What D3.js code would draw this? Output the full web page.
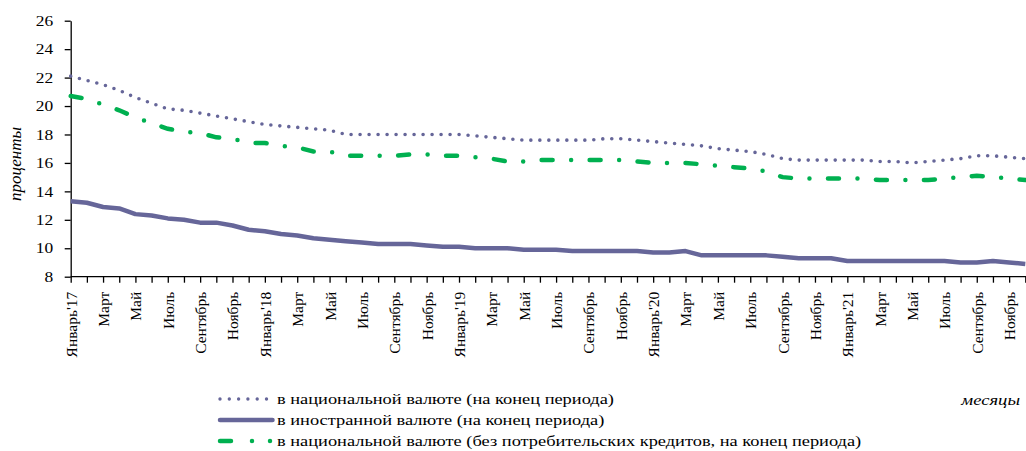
<!DOCTYPE html>
<html>
<head>
<meta charset="utf-8">
<script src="https://cdn.jsdelivr.net/npm/d3@7"></script>
<style>
  body { margin: 0; background: #fff; }
  svg { display: block; }
  svg text { font-family: "Liberation Serif", "Times New Roman", serif !important; fill: #000; }
  .axis path, .axis line { stroke: #000; stroke-width: 1.3; }
</style>
</head>
<body>
<svg width="1026" height="451"></svg>
<script>
// tick labels, every second month
var tickLabels = ["Январь'17", "Март", "Май", "Июль", "Сентябрь", "Ноябрь",
                  "Январь'18", "Март", "Май", "Июль", "Сентябрь", "Ноябрь",
                  "Январь'19", "Март", "Май", "Июль", "Сентябрь", "Ноябрь",
                  "Январь'20", "Март", "Май", "Июль", "Сентябрь", "Ноябрь",
                  "Январь'21", "Март", "Май", "Июль", "Сентябрь", "Ноябрь"];

var yTicks = [8, 10, 12, 14, 16, 18, 20, 22, 24, 26];

// в национальной валюте (на конец периода)
var national = [22.1, 21.8, 21.5, 21.1, 20.6, 20.2, 19.8, 19.7, 19.5, 19.3, 19.1, 18.9,
                18.7, 18.6, 18.5, 18.4, 18.3, 18.0, 18.0, 18.0, 18.0, 18.0, 18.0, 18.0,
                18.0, 17.9, 17.8, 17.7, 17.6, 17.6, 17.6, 17.6, 17.6, 17.7, 17.7, 17.6,
                17.5, 17.4, 17.3, 17.2, 17.0, 16.9, 16.8, 16.6, 16.3, 16.2, 16.2, 16.2,
                16.2, 16.2, 16.1, 16.1, 16.0, 16.1, 16.2, 16.3, 16.5, 16.5, 16.4, 16.3];

// в иностранной валюте (на конец периода)
var foreign = [13.3, 13.2, 12.9, 12.8, 12.4, 12.3, 12.1, 12.0, 11.8, 11.8, 11.6, 11.3,
               11.2, 11.0, 10.9, 10.7, 10.6, 10.5, 10.4, 10.3, 10.3, 10.3, 10.2, 10.1,
               10.1, 10.0, 10.0, 10.0, 9.9, 9.9, 9.9, 9.8, 9.8, 9.8, 9.8, 9.8,
               9.7, 9.7, 9.8, 9.5, 9.5, 9.5, 9.5, 9.5, 9.4, 9.3, 9.3, 9.3,
               9.1, 9.1, 9.1, 9.1, 9.1, 9.1, 9.1, 9.0, 9.0, 9.1, 9.0, 8.9];

// в национальной валюте (без потребительских кредитов, на конец периода)
var nationalExCons = [20.7, 20.5, 20.1, 19.7, 19.2, 18.8, 18.4, 18.2, 18.1, 17.8, 17.7, 17.4,
                      17.4, 17.2, 17.1, 16.8, 16.8, 16.5, 16.5, 16.5, 16.5, 16.6, 16.6, 16.5,
                      16.5, 16.4, 16.3, 16.1, 16.1, 16.2, 16.2, 16.2, 16.2, 16.2, 16.2, 16.1,
                      16.0, 16.0, 16.0, 15.9, 15.8, 15.7, 15.6, 15.4, 15.0, 14.9, 14.9, 14.9,
                      14.9, 14.9, 14.8, 14.8, 14.8, 14.8, 14.9, 15.0, 15.1, 15.0, 14.9, 14.8];

var purple = "#666699", green = "#00b050";
var stretch = 1.2;   // the source text is drawn a little wide

var svg = d3.select("svg");
var months = d3.range(national.length);

var xScale = d3.scalePoint()
    .domain(months)
    .range([70.7, 1025.3]);

var yScale = d3.scaleLinear()
    .domain([8, 26])
    .range([276.7, 20.7]);

// Y axis
svg.append("g")
    .attr("class", "axis")
    .attr("transform", "translate(70.7,0)")
    .call(d3.axisLeft(yScale).tickValues(yTicks).tickSize(6).tickSizeOuter(0).tickPadding(0))
    .selectAll(".tick text")
    .style("font-size", "14.5px")
    .attr("x", null)
    .attr("transform", "translate(-17.5,0) scale(" + stretch + ",1)");

// X axis
var xAxis = svg.append("g")
    .attr("class", "axis")
    .attr("transform", "translate(0,276.7)")
    .call(d3.axisBottom(xScale)
        .tickSize(6).tickSizeOuter(0)
        .tickFormat(function(d) { return d % 2 === 0 ? tickLabels[d / 2] : ""; }));

xAxis.select(".domain").attr("d", "M70.7,0H1026");

xAxis.selectAll("text")
    .style("font-size", "15.5px")
    .attr("transform", "rotate(-90)")
    .attr("text-anchor", "end")
    .attr("x", -15)
    .attr("y", 0)
    .attr("dy", "0.35em");

// lines
var line = d3.line()
    .x(function(d, i) { return xScale(i); })
    .y(function(d) { return yScale(d); });

svg.append("path")
    .datum(foreign)
    .attr("fill", "none")
    .attr("stroke", purple)
    .attr("stroke-width", 4.5)
    .attr("stroke-linejoin", "round")
    .attr("d", line);

svg.append("path")
    .datum(nationalExCons)
    .attr("fill", "none")
    .attr("stroke", green)
    .attr("stroke-width", 4.5)
    .attr("stroke-linecap", "round")
    .attr("stroke-dasharray", "11,18.5,0,18.5")
    .attr("d", line);

svg.append("path")
    .datum(national)
    .attr("fill", "none")
    .attr("stroke", purple)
    .attr("stroke-width", 3.6)
    .attr("stroke-linecap", "round")
    .attr("stroke-dasharray", "0,9")
    .attr("d", line);

// axis titles
svg.append("text")
    .attr("transform", "translate(21,164) rotate(-90)")
    .attr("text-anchor", "middle")
    .style("font-size", "17px")
    .style("font-style", "italic")
    .text("проценты");

svg.append("text")
    .attr("transform", "translate(1020,405) scale(" + stretch + ",1)")
    .attr("text-anchor", "end")
    .style("font-size", "15.5px")
    .style("font-style", "italic")
    .text("месяцы");

// legend
var legendNames = ["в национальной валюте (на конец периода)",
                   "в иностранной валюте (на конец периода)",
                   "в национальной валюте (без потребительских кредитов, на конец периода)"];
var legendY = [399, 420, 441];

svg.append("line")
    .attr("x1", 220).attr("x2", 268).attr("y1", legendY[0]).attr("y2", legendY[0])
    .attr("stroke", purple).attr("stroke-width", 3.4)
    .attr("stroke-linecap", "round").attr("stroke-dasharray", "0,9.3");

svg.append("line")
    .attr("x1", 220).attr("x2", 272.5).attr("y1", legendY[1]).attr("y2", legendY[1])
    .attr("stroke", purple).attr("stroke-width", 4.5)
    .attr("stroke-linecap", "round");

svg.append("line")
    .attr("x1", 220).attr("x2", 272).attr("y1", legendY[2]).attr("y2", legendY[2])
    .attr("stroke", green).attr("stroke-width", 4.5)
    .attr("stroke-linecap", "round").attr("stroke-dasharray", "11,21,0,18,0,100");

svg.selectAll(".legend-text")
    .data(legendNames)
    .enter().append("text")
    .attr("class", "legend-text")
    .attr("transform", function(d, i) {
        return "translate(277," + (legendY[i] + 4.5) + ") scale(1.225,1)";
    })
    .style("font-size", "15px")
    .text(function(d) { return d; });
</script>
</body>
</html>
